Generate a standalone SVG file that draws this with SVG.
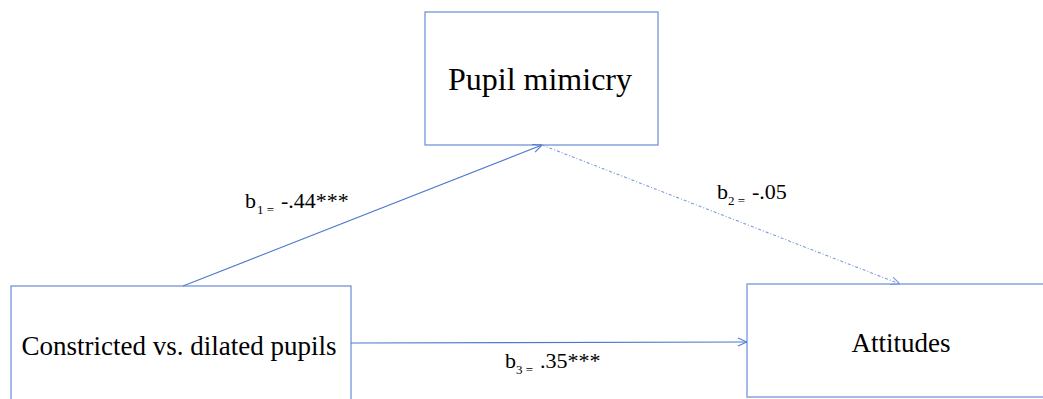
<svg xmlns="http://www.w3.org/2000/svg" width="1043" height="399" viewBox="0 0 1043 399">
<style>
.box{fill:#fff;stroke:#6a8bd6;stroke-width:1.2}
text{font-family:'Liberation Serif','Times New Roman','DejaVu Serif',serif;fill:#000}
.conn{fill:none;stroke:#4f79cc;stroke-width:1.1}
.dot{fill:none;stroke:#7c9bdc;stroke-width:1.1;stroke-dasharray:3 2 1 2}
</style>
<defs>
<marker id="arr" viewBox="0 0 10 10" refX="10" refY="5" markerWidth="10" markerHeight="10" markerUnits="userSpaceOnUse" orient="auto">
<path d="M1,1 L10,5 L1,9" fill="none" stroke="#4f79cc" stroke-width="1.1"/>
</marker>
<marker id="arr2" viewBox="0 0 10 10" refX="10" refY="5" markerWidth="10" markerHeight="10" markerUnits="userSpaceOnUse" orient="auto">
<path d="M1,1 L10,5 L1,9" fill="none" stroke="#7c9bdc" stroke-width="1.1"/>
</marker>
</defs>
<rect width="1043" height="399" fill="#fff"/>
<g id="node-mimicry">
<rect class="box" x="425" y="12" width="233" height="133"/>
<text x="540" y="90" font-family="Liberation Serif, serif" font-size="32" text-anchor="middle">Pupil mimicry</text>
</g>
<g id="node-pupils">
<rect class="box" x="11" y="286" width="340" height="120"/>
<text x="179" y="355" font-family="Liberation Serif, serif" font-size="27" text-anchor="middle">Constricted vs. dilated pupils</text>
</g>
<g id="node-attitudes">
<rect class="box" x="747" y="284" width="310" height="113" style="stroke:#8eaae2;stroke-width:1.6"/>
<text x="901" y="352" font-family="Liberation Serif, serif" font-size="27" text-anchor="middle">Attitudes</text>
</g>
<g id="connectors">
<line class="conn" x1="183" y1="286" x2="542" y2="145" marker-end="url(#arr)"/>
<line class="dot" x1="542" y1="145" x2="900" y2="284" marker-end="url(#arr2)"/>
<line class="conn" x1="351" y1="343" x2="747" y2="342" marker-end="url(#arr)"/>
</g>
<g id="labels">
<text font-family="Liberation Serif, serif" font-size="22"><tspan x="245" y="208">b</tspan><tspan x="257" y="214" font-size="13">1 =</tspan><tspan x="281" y="208">-.44***</tspan></text>
<text font-family="Liberation Serif, serif" font-size="22"><tspan x="717" y="199">b</tspan><tspan x="728" y="205" font-size="13">2 =</tspan><tspan x="752" y="199">-.05</tspan></text>
<text font-family="Liberation Serif, serif" font-size="22"><tspan x="505" y="368">b</tspan><tspan x="516" y="374" font-size="13">3 =</tspan><tspan x="540" y="368">.35***</tspan></text>
</g>
</svg>
